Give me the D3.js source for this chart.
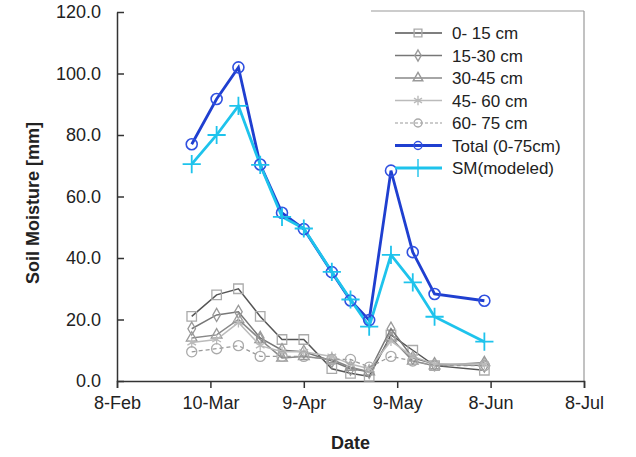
<!DOCTYPE html>
<html><head><meta charset="utf-8">
<script src="https://cdn.jsdelivr.net/npm/d3@7"></script>
<style>body{margin:0;background:#fff;}svg{display:block;font-family:"Liberation Sans",Arial,sans-serif;}</style>
</head><body><svg id="c" width="636" height="457"></svg>
<script>
const dates = ["2011-03-04","2011-03-12","2011-03-19","2011-03-26","2011-04-02","2011-04-09","2011-04-18","2011-04-24","2011-04-30","2011-05-07","2011-05-14","2011-05-21","2011-06-06"];
const d0_15  = [21, 28, 30, 21, 13.5, 13.5, 4, 2.5, 1.5, 15, 10, 5, 3.5];
const d15_30 = [17, 21.5, 22.5, 14, 10, 9.5, 6.5, 4, 3, 17, 7.5, 5.5, 5];
const d30_45 = [14, 15, 20, 13.5, 7.5, 8, 7, 4.5, 3, 14, 6.5, 5, 6];
const d45_60 = [12.5, 13.5, 19, 11.5, 9.5, 9.5, 8, 5.5, 4, 13, 8, 5.5, 5.5];
const d60_75 = [9.5, 10.5, 11.5, 8, 8, 8, 7, 7, 4.5, 8, 6.5, 5, 5];
const total  = [77, 91.7, 102, 70.4, 54.7, 49.4, 35.4, 26.2, 19.8, 68.4, 41.9, 28.3, 26.1];
const smModeled = [70.5, 80, 89.5, 70.3, 53.4, 49.6, 35.5, 26.5, 17.7, 41, 32.1, 20.9, 12.8];
const xTickDates = ["2011-02-08","2011-03-10","2011-04-09","2011-05-09","2011-06-08","2011-07-08"];
const yTicks = [0, 20, 40, 60, 80, 100, 120];
const seriesNames = ["0- 15 cm","15-30 cm","30-45 cm","45- 60 cm","60- 75  cm","Total (0-75cm)","SM(modeled)"];

const parse = d3.timeParse("%Y-%m-%d");
const svg = d3.select("#c");
const L = 117, R = 584, T = 12, B = 381;
const x = d3.scaleTime().domain([parse(xTickDates[0]), parse(xTickDates[xTickDates.length-1])]).range([L, R]);
const y = d3.scaleLinear().domain([0, 120]).range([B, T]);
const axisColor = "#333";

// frame (legend box top/right)
svg.append("line").attr("x1", 371).attr("x2", R).attr("y1", 11).attr("y2", 11).attr("stroke", "#999").attr("stroke-width", 1.2);
svg.append("line").attr("x1", R).attr("x2", R).attr("y1", 11).attr("y2", B).attr("stroke", "#999").attr("stroke-width", 1.2);

// axes
const xAxis = d3.axisBottom(x).tickValues(xTickDates.map(parse)).tickFormat(d3.timeFormat("%-d-%b")).tickSize(7).tickPadding(8);
const gx = svg.append("g").attr("transform", `translate(0,${B})`).call(xAxis);
gx.select(".domain").attr("stroke", axisColor).attr("stroke-width", 1.5);
gx.selectAll(".tick line").attr("stroke", axisColor).attr("stroke-width", 1.5);
gx.selectAll("text").attr("font-size", 18).attr("fill", "#222").attr("font-family", "Liberation Sans, Arial");

const yAxis = d3.axisLeft(y).tickValues(yTicks).tickFormat(d3.format(".1f")).tickSizeInner(-7).tickSizeOuter(0).tickPadding(16);
const gy = svg.append("g").attr("transform", `translate(${L},0)`).call(yAxis);
gy.select(".domain").attr("stroke", axisColor).attr("stroke-width", 1.5);
gy.selectAll(".tick line").attr("stroke", axisColor).attr("stroke-width", 1.5);
gy.selectAll("text").attr("font-size", 18).attr("fill", "#222").attr("font-family", "Liberation Sans, Arial");

svg.append("text").attr("x", (L + R) / 2).attr("y", 449).attr("text-anchor", "middle")
  .attr("font-size", 18).attr("font-weight", "bold").attr("fill", "#222").text("Date");
svg.append("text").attr("transform", "translate(39,203) rotate(-90)").attr("text-anchor", "middle")
  .attr("font-size", 18).attr("font-weight", "bold").attr("fill", "#222").text("Soil Moisture [mm]");

const pts = arr => arr.map((v, i) => [x(parse(dates[i])), y(v)]);
const line = d3.line();

const gray = [
  {vals: d0_15,  line: "#555", mk: "#aaa", sym: d3.symbolSquare,   size: 90, dash: null, w: 1.5},
  {vals: d15_30, line: "#777", mk: "#999", sym: d3.symbolDiamond,  size: 50, dash: null, w: 1.5},
  {vals: d30_45, line: "#888", mk: "#999", sym: d3.symbolTriangle, size: 50, dash: null, w: 1.5},
  {vals: d45_60, line: "#bbb", mk: "#bbb", sym: d3.symbolAsterisk, size: 70, dash: null, w: 1.5},
  {vals: d60_75, line: "#999", mk: "#aaa", sym: d3.symbolCircle,   size: 80, dash: "4,3", w: 1.3}
];
gray.forEach(s => {
  const p = pts(s.vals);
  svg.append("path").attr("d", line(p)).attr("fill", "none").attr("stroke", s.line).attr("stroke-width", s.w).attr("stroke-dasharray", s.dash);
  svg.append("g").selectAll("path").data(p).join("path")
    .attr("transform", d => `translate(${d[0]},${d[1]})`)
    .attr("d", d3.symbol(s.sym, s.size)).attr("fill", "none").attr("stroke", s.mk).attr("stroke-width", 1.3);
});

const blue = "#1f3fd0", cyan = "#1ec3ec";
const pt = pts(total), ps = pts(smModeled);
svg.append("path").attr("d", line(pt)).attr("fill", "none").attr("stroke", blue).attr("stroke-width", 2.8);
svg.append("path").attr("d", line(ps)).attr("fill", "none").attr("stroke", cyan).attr("stroke-width", 2.8);
svg.append("g").selectAll("circle").data(pt).join("circle").attr("cx", d => d[0]).attr("cy", d => d[1]).attr("r", 5.5)
  .attr("fill", "none").attr("stroke", "#3050e0").attr("stroke-width", 1.6);
svg.append("g").selectAll("path").data(ps).join("path")
  .attr("transform", d => `translate(${d[0]},${d[1]})`)
  .attr("d", d3.symbol(d3.symbolPlus, 110)).attr("fill", "none").attr("stroke", cyan).attr("stroke-width", 1.8);

// legend
const lg = svg.append("g");
const legendStyles = [
  {line: "#555", mk: "#aaa", sym: d3.symbolSquare, size: 60, dash: null, w: 1.3},
  {line: "#777", mk: "#999", sym: d3.symbolDiamond, size: 35, dash: null, w: 1.3},
  {line: "#888", mk: "#999", sym: d3.symbolTriangle, size: 40, dash: null, w: 1.3},
  {line: "#bbb", mk: "#bbb", sym: d3.symbolAsterisk, size: 60, dash: null, w: 1.3},
  {line: "#999", mk: "#aaa", sym: d3.symbolCircle, size: 50, dash: "3,2", w: 1.2},
  {line: blue, mk: "#3050e0", sym: d3.symbolCircle, size: 50, dash: null, w: 2.8},
  {line: cyan, mk: cyan, sym: d3.symbolPlus, size: 110, dash: null, w: 2.8}
];
seriesNames.forEach((name, i) => {
  const yy = 33 + i * 22.5, s = legendStyles[i];
  lg.append("line").attr("x1", 395).attr("x2", 442).attr("y1", yy).attr("y2", yy)
    .attr("stroke", s.line).attr("stroke-width", s.w).attr("stroke-dasharray", s.dash);
  lg.append("path").attr("transform", `translate(418,${yy})`).attr("d", d3.symbol(s.sym, s.size))
    .attr("fill", "none").attr("stroke", s.mk).attr("stroke-width", 1.4);
  lg.append("text").attr("x", 452).attr("y", yy + 6).attr("font-size", 17).attr("fill", "#222").text(name);
});
</script></body></html>
